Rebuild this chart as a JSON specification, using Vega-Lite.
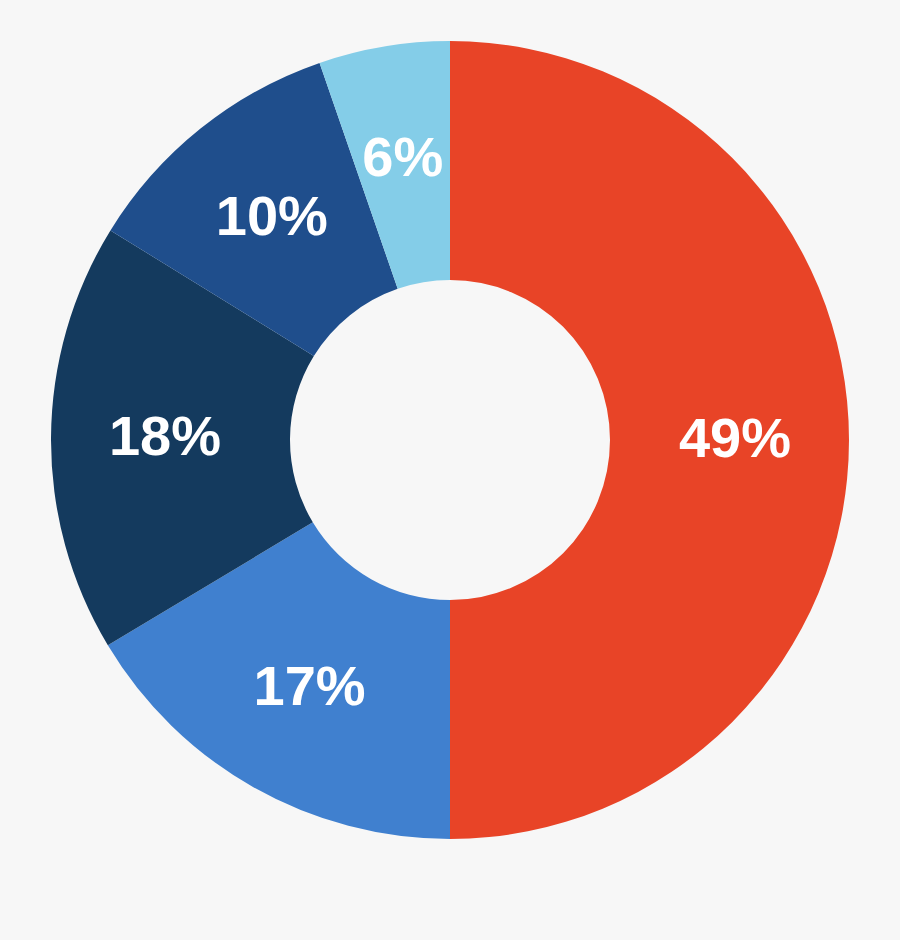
{
  "$schema": "https://vega.github.io/schema/vega-lite/v6.json",
  "width": 900,
  "height": 940,
  "autosize": {"type": "fit", "contains": "padding"},
  "padding": {"top": 0, "left": 0, "right": 0, "bottom": 60},
  "background": "#f7f7f7",
  "data": {
    "values": [
      {"segment": "A", "order": 1, "share": 50.0, "label": "49%"},
      {"segment": "B", "order": 2, "share": 16.4, "label": "17%"},
      {"segment": "C", "order": 3, "share": 17.4, "label": "18%"},
      {"segment": "D", "order": 4, "share": 10.9, "label": "10%"},
      {"segment": "E", "order": 5, "share": 5.3, "label": "6%"}
    ]
  },
  "encoding": {
    "theta": {"field": "share", "type": "quantitative", "stack": true},
    "order": {"field": "order", "type": "quantitative"}
  },
  "layer": [
    {
      "mark": {"type": "arc", "outerRadius": 399, "innerRadius": 160},
      "encoding": {
        "color": {
          "field": "segment",
          "type": "nominal",
          "scale": {
            "domain": ["A", "B", "C", "D", "E"],
            "range": ["#e84427", "#4080cf", "#143a5e", "#1f4e8c", "#84cde8"]
          },
          "legend": null
        }
      }
    },
    {
      "mark": {
        "type": "text",
        "radius": 285,
        "font": "Liberation Sans",
        "fontWeight": "bold",
        "fontSize": 56,
        "color": "white",
        "align": "center",
        "baseline": "middle"
      },
      "encoding": {
        "text": {"field": "label", "type": "nominal"}
      }
    }
  ]
}
